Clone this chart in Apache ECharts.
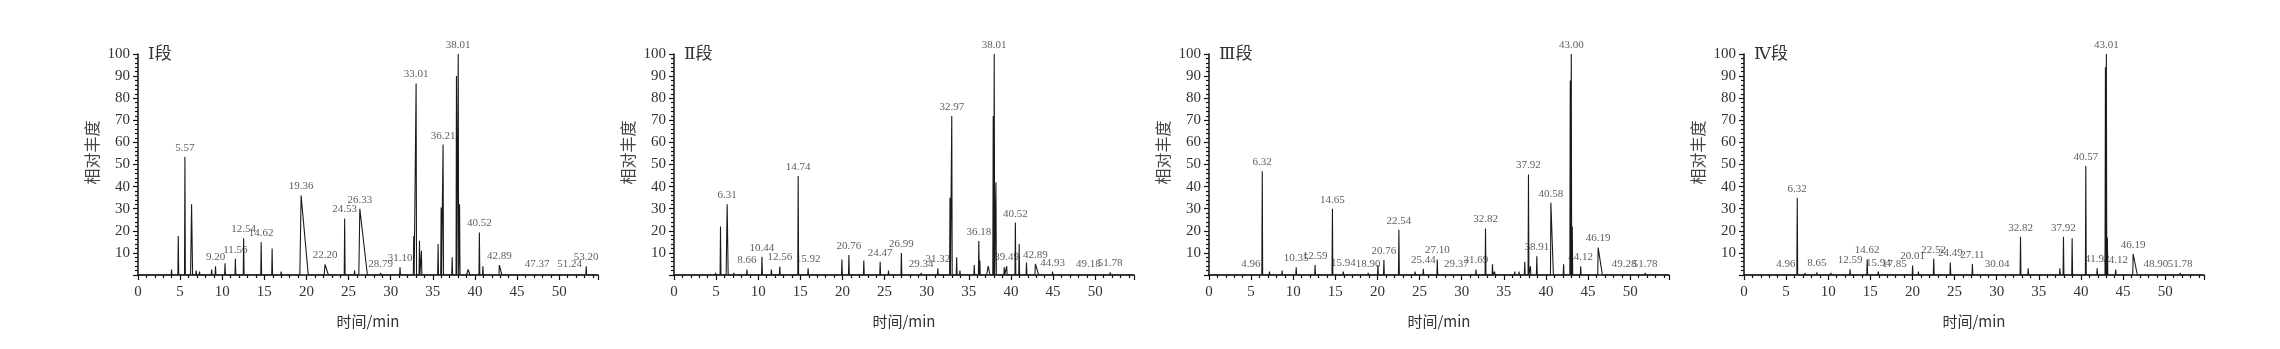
<!DOCTYPE html>
<html>
<head>
<meta charset="utf-8">
<script src="https://cdn.jsdelivr.net/npm/echarts@6/dist/echarts.min.js"></script>
<style>
html,body{margin:0;padding:0;background:#fff;}
#c{width:2280px;height:349px;}
</style>
</head>
<body>
<div id="c"></div>
<script>
// Peak tables: [retention time (min), relative abundance, label, left half-width, right half-width]
const panelTitles = ['Ⅰ段', 'Ⅱ段', 'Ⅲ段', 'Ⅳ段'];
const xTicks = [0, 5, 10, 15, 20, 25, 30, 35, 40, 45, 50];
const yTicks = [10, 20, 30, 40, 50, 60, 70, 80, 90, 100];

const peaks1 = [
  [3.98, 2.5], [4.78, 17.6], [5.57, 53.5, '5.57'], [6.36, 32, '', 0.12, 0.12], [6.9, 2], [7.3, 1.5],
  [8.74, 2.5], [9.20, 4, '9.20'], [10.33, 5.3], [11.56, 7.4, '11.56'], [12.54, 16.6, '12.54'],
  [14.62, 14.8, '14.62'], [15.92, 12], [16.99, 1.5], [19.36, 36, '19.36', 0.15, 0.85],
  [22.20, 4.8, '22.20', 0.1, 0.4], [24.53, 25.6, '24.53'], [25.71, 2], [26.33, 30, '26.33', 0.12, 0.9],
  [28.79, 1, '28.79'], [31.10, 3.5, '31.10'], [32.73, 17.6], [33.01, 86.7, '33.01'], [33.41, 15.5],
  [33.64, 11], [35.62, 14], [35.98, 30.5], [36.21, 59, '36.21'], [37.29, 8], [37.8, 90],
  [38.01, 100, '38.01'], [38.17, 32], [39.19, 2.5, '', 0.2, 0.2], [40.52, 19.2, '40.52'], [40.94, 4],
  [42.89, 4.5, '42.89', 0.05, 0.3], [47.37, 0.8, '47.37'], [51.24, 0.8, '51.24'], [53.20, 4, '53.20']
];
const peaks2 = [
  [3.94, 0.8], [4.93, 1], [5.52, 22], [6.31, 32, '6.31', 0.12, 0.12], [7.1, 1], [8.66, 2.5, '8.66'],
  [10.44, 8.3, '10.44'], [11.56, 2.5], [12.56, 3.8, '12.56'], [14.74, 44.8, '14.74'], [15.92, 3, '15.92'],
  [19.93, 7], [20.76, 9, '20.76'], [22.53, 6.5], [24.47, 6, '24.47'], [25.46, 2], [26.99, 10, '26.99'],
  [29.34, 1, '29.34'], [31.32, 3, '31.32'], [32.76, 35], [32.97, 72, '32.97'], [33.55, 8], [33.94, 2],
  [35.64, 4.5], [36.18, 15.4, '36.18'], [36.3, 6.5], [37.3, 4, '', 0.2, 0.2], [37.89, 72],
  [38.01, 100, '38.01'], [38.21, 42], [39.2, 3.5], [39.49, 4, '39.49'], [40.52, 23.7, '40.52'],
  [40.97, 14], [41.84, 5.7], [42.89, 5, '42.89', 0.05, 0.4], [44.93, 1.5, '44.93'],
  [49.18, 0.8, '49.18'], [51.78, 1.2, '51.78']
];
const peaks3 = [
  [4.96, 0.8, '4.96'], [6.32, 47, '6.32'], [7.18, 1.5], [8.68, 2], [10.35, 3.5, '10.35'],
  [12.59, 4.5, '12.59'], [14.65, 30, '14.65'], [15.94, 1.5, '15.94'], [18.90, 1, '18.90'], [20.05, 4.5],
  [20.76, 6.8, '20.76'], [22.54, 20.5, '22.54'], [24.46, 1.5], [25.44, 2.8, '25.44'], [27.10, 7, '27.10'],
  [29.37, 0.8, '29.37'], [31.69, 2.5, '31.69'], [32.82, 21, '32.82'], [33.65, 4.8], [33.9, 1.5],
  [36.29, 1.5], [36.8, 1.5], [37.48, 6], [37.92, 45.5, '37.92'], [38.15, 4], [38.91, 8.5, '38.91'],
  [40.58, 32.7, '40.58', 0.05, 0.3], [42.09, 4.8], [42.88, 88], [43.00, 100, '43.00'], [43.12, 22],
  [44.12, 4, '44.12'], [46.19, 12.4, '46.19', 0.05, 0.5], [49.28, 0.8, '49.28'], [51.78, 1, '51.78']
];
const peaks4 = [
  [4.96, 0.8, '4.96'], [6.32, 35, '6.32'], [7.24, 1], [8.65, 1.2, '8.65'], [10.32, 1], [12.59, 2.6, '12.59'],
  [14.62, 7, '14.62'], [15.94, 1.5, '15.94'], [17.85, 0.8, '17.85'], [20.01, 4.3, '20.01'], [20.7, 1.5],
  [22.52, 7.4, '22.52'], [24.49, 5.7, '24.49'], [27.11, 5, '27.11'], [30.04, 0.8, '30.04'],
  [32.82, 17.3, '32.82'], [33.73, 3], [37.49, 3], [37.92, 17.3, '37.92'], [38.95, 16.6],
  [40.57, 49.3, '40.57'], [41.92, 3, '41.92'], [42.9, 94], [43.01, 100, '43.01'], [43.13, 17],
  [44.12, 2.5, '44.12'], [46.19, 9.5, '46.19', 0.05, 0.5], [48.90, 0.8, '48.90'], [51.78, 1, '51.78']
];
const allPeaks = [peaks1, peaks2, peaks3, peaks4];

const X_MAX = 54.6;
const SERIF = '"Liberation Serif", "DejaVu Serif", "Noto Sans CJK SC", serif';
const CJK = '"Noto Sans CJK SC", "Liberation Serif", sans-serif';
const lefts = [138, 674, 1209, 1744];

function trace(peaks) {
  const pts = [[0, 0], [X_MAX, 0]];
  peaks.forEach(p => {
    const wl = p[3] || 0.05, wr = p[4] || 0.05;
    pts.push([p[0] - wl, 0], [p[0], p[1]], [p[0] + wr, 0]);
  });
  pts.sort((a, b) => a[0] - b[0]);
  return pts;
}
function labelled(peaks) {
  return peaks.filter(p => p[2]).map(p => ({ value: [p[0], p[1]], name: p[2] }));
}

const grid = [], xAxis = [], yAxis = [], series = [], title = [];
lefts.forEach((l, i) => {
  grid.push({ left: l, top: 54, width: 460, height: 221 });
  title.push({
    text: panelTitles[i], left: l + 10, top: 46, padding: 0,
    textStyle: { fontSize: 17, fontWeight: 'normal', color: '#333', fontFamily: SERIF }
  });
  xAxis.push({
    type: 'value', gridIndex: i, min: 0, max: X_MAX, interval: 5,
    axisLine: { show: true, onZero: false, lineStyle: { color: '#111', width: 1.5 } },
    axisTick: { show: true, length: 5, lineStyle: { color: '#111', width: 1.2 } },
    minorTick: { show: true, splitNumber: 5, length: 3, lineStyle: { color: '#111', width: 1.2 } },
    splitLine: { show: false },
    axisLabel: {
      fontSize: 15, color: '#333', margin: 10, fontFamily: SERIF,
      formatter: v => (xTicks.indexOf(v) >= 0 ? String(v) : '')
    },
    name: '时间/min', nameLocation: 'middle', nameGap: 39,
    nameTextStyle: { fontSize: 15, color: '#333', fontFamily: CJK }
  });
  yAxis.push({
    type: 'value', gridIndex: i, min: 0, max: 100, interval: 10,
    axisLine: { show: true, lineStyle: { color: '#111', width: 1.5 } },
    axisTick: { show: true, length: 5, lineStyle: { color: '#111', width: 1.2 } },
    minorTick: { show: true, splitNumber: 5, length: 3, lineStyle: { color: '#111', width: 1.2 } },
    splitLine: { show: false },
    axisLabel: {
      fontSize: 15, color: '#333', margin: 8, fontFamily: SERIF,
      formatter: v => (yTicks.indexOf(v) >= 0 ? String(v) : '')
    },
    name: '相对丰度', nameLocation: 'middle', nameGap: 38,
    nameTextStyle: { fontSize: 16, color: '#444', fontFamily: CJK, padding: [0, 0, 0, 24] }
  });
  series.push({
    type: 'line', xAxisIndex: i, yAxisIndex: i, data: trace(allPeaks[i]),
    symbol: 'none', lineStyle: { color: '#1a1a1a', width: 1.1 }, silent: true
  });
  series.push({
    type: 'scatter', xAxisIndex: i, yAxisIndex: i, data: labelled(allPeaks[i]),
    symbolSize: 1, itemStyle: { color: 'transparent' }, silent: true,
    label: {
      show: true, position: 'top', distance: 3, formatter: p => p.name,
      fontSize: 11, color: '#333', fontFamily: SERIF
    }
  });
});

const chart = echarts.init(document.getElementById('c'), null, { renderer: 'canvas' });
chart.setOption({ animation: false, backgroundColor: '#fff', title, grid, xAxis, yAxis, series });
</script>
</body>
</html>
